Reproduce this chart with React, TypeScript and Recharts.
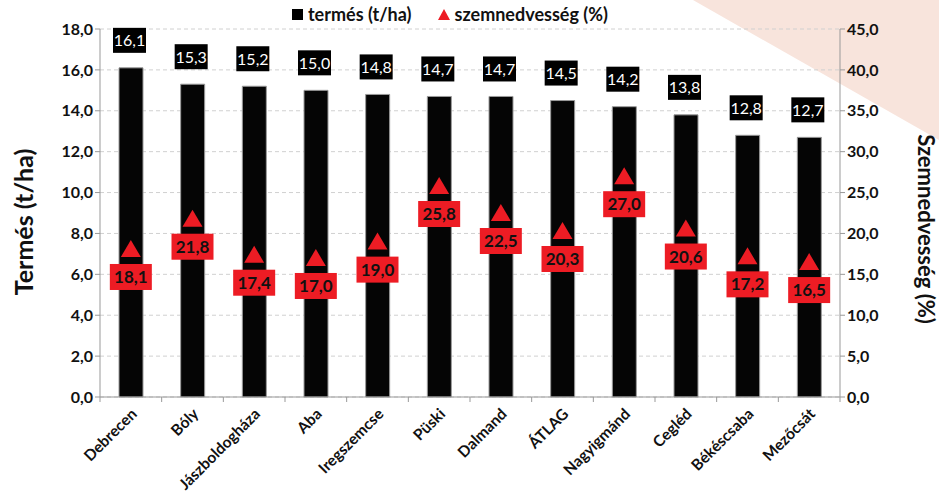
import React from 'react';
import {
  ComposedChart,
  Bar,
  Line,
  XAxis,
  YAxis,
  CartesianGrid,
  LabelList,
  Legend,
} from 'recharts';

const locations = [
  'Debrecen', 'Bóly', 'Jászboldogháza', 'Aba', 'Iregszemcse', 'Püski',
  'Dalmand', 'ÁTLAG', 'Nagyigmánd', 'Cegléd', 'Békéscsaba', 'Mezőcsát',
];
const yieldValues = [16.1, 15.3, 15.2, 15.0, 14.8, 14.7, 14.7, 14.5, 14.2, 13.8, 12.8, 12.7];
const moistureValues = [18.1, 21.8, 17.4, 17.0, 19.0, 25.8, 22.5, 20.3, 27.0, 20.6, 17.2, 16.5];
const leftTicks = [0, 2, 4, 6, 8, 10, 12, 14, 16, 18];
const rightTicks = [0, 5, 10, 15, 20, 25, 30, 35, 40, 45];

const data = locations.map((name, i) => ({
  name,
  termes: yieldValues[i],
  nedv: moistureValues[i],
}));

const FONT = 'Lato, "Open Sans", sans-serif';
const RED = '#ed1c24';
const fmt = (v: number) => v.toFixed(1).replace('.', ',');

function Triangle(props: any) {
  const { cx, cy } = props;
  if (cx == null || cy == null) return null;
  return (
    <path
      d={`M${cx},${cy - 9} L${cx + 10},${cy + 8} L${cx - 10},${cy + 8} Z`}
      fill={RED}
    />
  );
}

function YieldLabel(props: any) {
  const { x, y, width, value } = props;
  const cx = x + width / 2 - 2;
  return (
    <g>
      <rect x={cx - 16} y={y - 40} width={33} height={25} fill="#000" />
      <text x={cx + 0.5} y={y - 21.5} textAnchor="middle" fill="#fff" fontSize={16} fontFamily={FONT}>
        {fmt(value)}
      </text>
    </g>
  );
}

function MoistureLabel(props: any) {
  const { x, y, value } = props;
  return (
    <g>
      <rect x={x - 21} y={y + 15} width={42} height={26} fill={RED} />
      <text x={x} y={y + 34} textAnchor="middle" fill="#111" fontSize={17} fontWeight="bold" fontFamily={FONT}>
        {fmt(value)}
      </text>
    </g>
  );
}

const BAND = 740 / locations.length;

function CategoryTick(props: any) {
  const { x, y, payload, index } = props;
  const last = index === locations.length - 1;
  return (
    <g>
      <line x1={x - BAND / 2} y1={y - 8} x2={x - BAND / 2} y2={y - 3} stroke="#999" />
      {last && <line x1={x + BAND / 2} y1={y - 8} x2={x + BAND / 2} y2={y - 3} stroke="#999" />}
      <text
        x={0}
        y={0}
        transform={`translate(${x + 7},${y + 10}) rotate(-45)`}
        textAnchor="end"
        fontSize={15.5}
        fontWeight="bold"
        fill="#111"
        fontFamily={FONT}
      >
        {payload.value}
      </text>
    </g>
  );
}

function LegendContent() {
  return (
    <div
      style={{
        display: 'flex',
        justifyContent: 'flex-start',
        paddingLeft: 292,
        fontFamily: FONT,
        fontWeight: 'bold',
        fontSize: 18,
        lineHeight: '22px',
        color: '#111',
      }}
    >
      <span style={{ display: 'flex', alignItems: 'center', gap: 5 }}>
        <span style={{ width: 11, height: 11, background: '#000', display: 'inline-block' }} />
        termés (t/ha)
      </span>
      <span style={{ display: 'flex', alignItems: 'center', gap: 5, marginLeft: 26 }}>
        <svg width={12} height={11}>
          <path d="M6,0 L12,11 L0,11 Z" fill={RED} />
        </svg>
        szemnedvesség (%)
      </span>
    </div>
  );
}

export default function App() {
  return (
    <div style={{ position: 'absolute', left: 0, top: 0, width: 939, height: 503, background: '#fff' }}>
      <svg width={939} height={503} style={{ position: 'absolute', left: 0, top: 0 }}>
        <polygon points="693,0 939,0 939,140" fill="#f8e4dc" />
      </svg>
      <div style={{ position: 'absolute', left: 0, top: 0 }}>
        <ComposedChart
          width={939}
          height={503}
          data={data}
          margin={{ top: 5, right: 0, left: 0, bottom: 0 }}
        >
          <Legend
            verticalAlign="top"
            height={24}
            content={<LegendContent />}
            wrapperStyle={{ top: 3, left: 0, width: 939 }}
          />
          <CartesianGrid vertical={false} stroke="#d0d0d0" strokeDasharray="4 3" yAxisId="left" />
          <XAxis
            dataKey="name"
            height={106}
            interval={0}
            tickLine={false}
            axisLine={{ stroke: '#999' }}
            tick={<CategoryTick />}
          />
          <YAxis
            yAxisId="left"
            width={100}
            domain={[0, 18]}
            ticks={leftTicks}
            tickFormatter={fmt}
            axisLine={{ stroke: '#999' }}
            tickLine={{ stroke: '#999' }}
            tickSize={5}
            tick={{ fontSize: 16, fontWeight: 'bold', fill: '#111', fontFamily: FONT }}
            label={(p: any) => {
              const vb = p.viewBox;
              const cx = 23;
              const cy = vb.y + vb.height / 2 + 9;
              return (
                <text
                  x={cx}
                  y={cy}
                  transform={`rotate(-90, ${cx}, ${cy})`}
                  textAnchor="middle"
                  dominantBaseline="central"
                  fontSize={25}
                  fontWeight="bold"
                  fill="#111"
                  fontFamily={FONT}
                >
                  Termés (t/ha)
                </text>
              );
            }}
          />
          <YAxis
            yAxisId="right"
            orientation="right"
            width={99}
            domain={[0, 45]}
            ticks={rightTicks}
            tickFormatter={fmt}
            axisLine={{ stroke: '#999' }}
            tickLine={{ stroke: '#999' }}
            tickSize={5}
            tick={{ fontSize: 16, fontWeight: 'bold', fill: '#111', fontFamily: FONT }}
            label={(p: any) => {
              const vb = p.viewBox;
              const cx = 926;
              const cy = vb.y + vb.height / 2 + 16;
              return (
                <text
                  x={cx}
                  y={cy}
                  transform={`rotate(90, ${cx}, ${cy})`}
                  textAnchor="middle"
                  dominantBaseline="central"
                  fontSize={22}
                  fontWeight="bold"
                  fill="#111"
                  fontFamily={FONT}
                >
                  Szemnedvesség (%)
                </text>
              );
            }}
          />
          <Bar
            yAxisId="left"
            dataKey="termes"
            fill="#050505"
            stroke="#9a9a9a"
            strokeWidth={1}
            barSize={24}
            isAnimationActive={false}
          >
            <LabelList dataKey="termes" content={<YieldLabel />} />
          </Bar>
          <Line
            yAxisId="right"
            dataKey="nedv"
            stroke="none"
            dot={<Triangle />}
            activeDot={false}
            isAnimationActive={false}
          >
            <LabelList dataKey="nedv" content={<MoistureLabel />} />
          </Line>
        </ComposedChart>
      </div>
    </div>
  );
}
